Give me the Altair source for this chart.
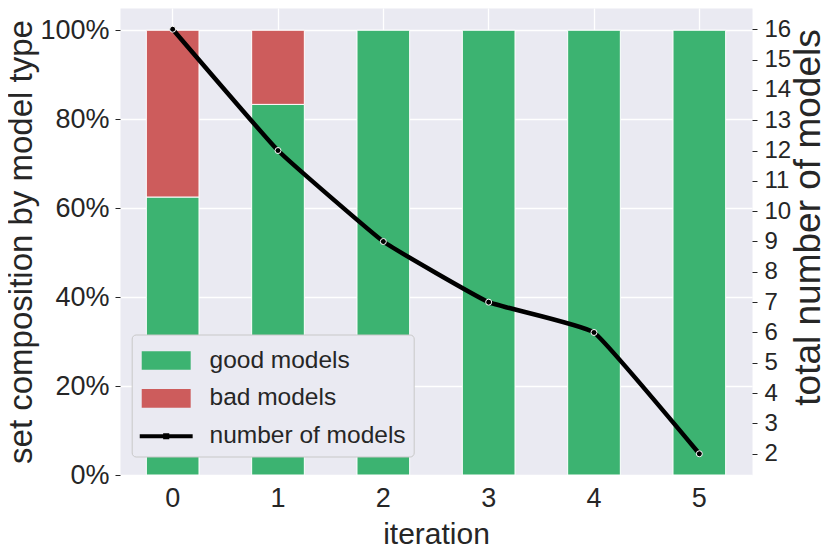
import altair as alt
import pandas as pd

# ---- data ----
iterations = [0, 1, 2, 3, 4, 5]
total_models = [16, 12, 9, 7, 6, 2]
good_share = [0.625, 0.8333, 1.0, 1.0, 1.0, 1.0]
bad_share = [0.375, 0.1667, 0.0, 0.0, 0.0, 0.0]
series_names = ["good models", "bad models", "number of models"]
series_colors = ["#3CB371", "#CD5C5C", "#000000"]
pct_ticks = [0, 0.2, 0.4, 0.6, 0.8, 1.0]
count_ticks = list(range(2, 17))

bars_df = pd.DataFrame({
    "iteration": iterations * 2,
    "series": ["good models"] * len(iterations) + ["bad models"] * len(iterations),
    "share": good_share + bad_share,
    "rank": [0] * len(iterations) + [1] * len(iterations),
})
line_df = pd.DataFrame({
    "iteration": iterations,
    "total": total_models,
    "series": ["number of models"] * len(iterations),
})

FONT = "Liberation Sans"
TEXT = "#262626"
BG = "#EAEAF2"

RECT_PATH = "M -1.36 -0.52 L 1.36 -0.52 L 1.36 0.52 L -1.36 0.52 Z"
LINE_PATH = ("M -1.47 -0.11 L -0.17 -0.11 L -0.17 -0.17 L 0.17 -0.17 L 0.17 -0.11 "
             "L 1.47 -0.11 L 1.47 0.11 L 0.17 0.11 L 0.17 0.17 L -0.17 0.17 "
             "L -0.17 0.11 L -1.47 0.11 Z")

x_scale = alt.Scale(paddingInner=0.5, paddingOuter=0.25)
x_axis = alt.Axis(title="iteration", labelAngle=0, ticks=False, domain=False,
                  grid=True, labelFontSize=27, labelPadding=10,
                  titleFontSize=30, titleY=68, titleBaseline="alphabetic")

right_scale = alt.Scale(domain=[1.3, 16.7], nice=False, zero=False)
right_axis = alt.Axis(orient="right", values=count_ticks, grid=False,
                      domain=False, ticks=True, tickSize=5, labelPadding=7,
                      labelFontSize=24, labelOverlap=False,
                      title="total number of models",
                      titleFontSize=37, titleAngle=270, titleX=67,
                      titleY=209, titleBaseline="alphabetic")

bars = alt.Chart(bars_df).transform_filter("datum.share > 0").mark_bar(
    stroke="white", strokeWidth=1
).encode(
    x=alt.X("iteration:O", scale=x_scale, axis=x_axis),
    y=alt.Y("share:Q", stack="zero",
            scale=alt.Scale(domain=[0, 1.05], nice=False),
            axis=alt.Axis(orient="left", values=pct_ticks, format=".0%",
                          grid=True, domain=False, tickSize=5, labelPadding=6,
                          labelFontSize=27,
                          title="set composition by model type",
                          titleFontSize=33, titleAngle=270, titleX=-89,
                          titleBaseline="alphabetic")),
    fill=alt.Fill("series:N",
                  scale=alt.Scale(domain=series_names[:2], range=series_colors[:2]),
                  legend=None),
    order=alt.Order("rank:Q"),
)

line = alt.Chart(line_df).mark_line(
    color="black", strokeWidth=4.5, interpolate="cardinal", tension=0.7
).encode(
    x=alt.X("iteration:O"),
    y=alt.Y("total:Q", scale=right_scale, axis=right_axis),
)

points = alt.Chart(line_df).mark_point(
    shape="circle", filled=True, fill="black", stroke="white",
    strokeWidth=1, size=36, opacity=1
).encode(
    x=alt.X("iteration:O"),
    y=alt.Y("total:Q", scale=right_scale, axis=right_axis),
)

leg = alt.Legend(
    title=None, orient="none", legendX=11.7, legendY=326.5, direction="vertical",
    padding=8, fillColor=BG, strokeColor="#C8C8C8", cornerRadius=4,
    symbolSize=1296, symbolStrokeWidth=0, symbolOffset=8.5, symbolOpacity=1,
    labelOffset=25.3, rowPadding=7.9, labelFontSize=24.5, labelFont=FONT,
    labelColor=TEXT, labelLimit=400,
)

legend_layer = alt.Chart(line_df).mark_point(filled=True, opacity=0).encode(
    x=alt.X("iteration:O"),
    y=alt.Y("total:Q", scale=right_scale, axis=right_axis),
    color=alt.Color("series:N",
                    scale=alt.Scale(domain=series_names, range=series_colors),
                    legend=leg),
    shape=alt.Shape("series:N",
                    scale=alt.Scale(domain=series_names,
                                    range=[RECT_PATH, RECT_PATH, LINE_PATH]),
                    legend=leg),
)

right = alt.layer(line, points, legend_layer)

chart = alt.layer(bars, right).resolve_scale(
    y="independent"
).properties(
    width=632, height=467,
    padding={"left": 112, "top": 0, "right": 71, "bottom": 74},
    autosize=alt.AutoSizeParams(type="none"),
    background="white",
).configure_view(
    fill=BG, stroke="transparent"
).configure_axis(
    labelFont=FONT, titleFont=FONT, labelColor=TEXT, titleColor=TEXT,
    tickColor=TEXT, gridColor="white", gridWidth=1.3, titleFontWeight="normal",
)

chart.save("out.html", embed_options={"renderer": "svg", "actions": False})
